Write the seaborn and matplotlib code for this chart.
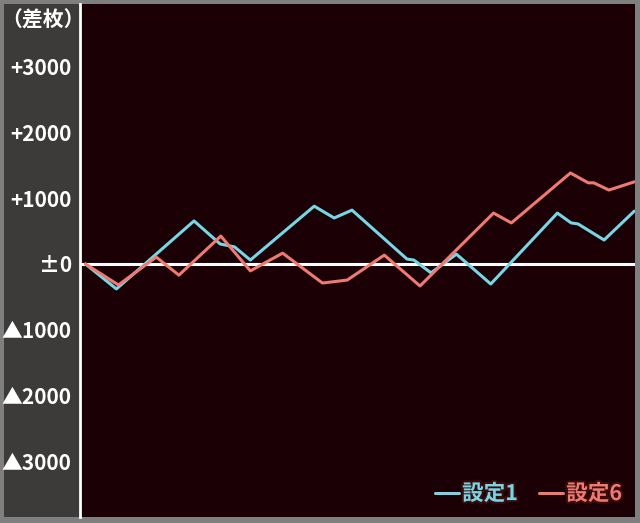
import numpy as np
import pandas as pd
import matplotlib.pyplot as plt
import matplotlib.patheffects as pe
from matplotlib.patches import Rectangle
import seaborn as sns

# 設定1 (cyan)
games_s1 = [0, 450, 1580, 1960, 2170, 2400, 3330, 3620, 3880, 4680, 4780, 5030,
            5400, 5900, 6870, 7070, 7170, 7550, 7990]
diff_s1 = [0, -380, 655, 305, 260, 60, 880, 700, 820, 75, 60, -135,
           150, -305, 775, 625, 610, 365, 805]

# 設定6 (red)
games_s6 = [0, 480, 1030, 1360, 1970, 2400, 2870, 3450, 3810, 4350, 4870, 5940,
            6200, 7060, 7320, 7400, 7620, 7990]
diff_s6 = [0, -320, 105, -170, 425, -105, 165, -290, -245, 135, -335, 775,
           625, 1385, 1235, 1235, 1125, 1250]

series_names = ['設定1', '設定6']
tick_values = [3000, 2000, 1000, 0, -1000, -2000, -3000]
tick_labels = ['+3000', '+2000', '+1000', '±0', '▲1000', '▲2000', '▲3000']

df = pd.concat([
    pd.DataFrame({'games': games_s1, 'diff': diff_s1, 'setting': series_names[0]}),
    pd.DataFrame({'games': games_s6, 'diff': diff_s6, 'setting': series_names[1]}),
])

sns.set_style('dark')
plt.rcParams['font.family'] = ['Noto Sans CJK JP', 'DejaVu Sans']

W, H = 640, 523
fig = plt.figure(figsize=(6.4, 5.23), dpi=100, facecolor='#7f7f7f')
# left label panel (behind the axes so tick labels stay visible)
panel = Rectangle((4 / W, 6 / H), 76 / W, 513 / H, transform=fig.transFigure,
                  facecolor='#3d3b39', edgecolor='none', zorder=-1)
fig.patches.append(panel)

ax = fig.add_axes([80 / W, 6 / H, 555 / W, 513 / H])
ax.set_facecolor('#1b0006')

ax.axhline(0, color='white', lw=2.2, zorder=1)
sns.lineplot(data=df, x='games', y='diff', hue='setting',
             palette={'設定1': '#78d6e4', '設定6': '#ee7a72'},
             estimator=None, sort=False, lw=2.2, ax=ax, zorder=3)

ax.set_xlim(-80, 8000)
ax.set_ylim(-3851, 3957)
ax.set_xticks([])
ax.set_yticks(tick_values)
ax.set_yticklabels(tick_labels)
ax.tick_params(axis='y', left=False, labelleft=True, length=0, pad=6,
               labelsize=15, labelcolor='white')
for t in ax.get_yticklabels():
    t.set_fontweight('bold')
ax.grid(False)
ax.set_xlabel('')
ax.set_ylabel('')
for s in ['top', 'right', 'bottom']:
    ax.spines[s].set_visible(False)
ax.spines['left'].set_visible(True)
ax.spines['left'].set_color('white')
ax.spines['left'].set_linewidth(2.0)

fig.text(43 / W, 1 - 20 / H, '（差枚）', color='white', fontsize=15,
         fontweight='bold', ha='center', va='center')

leg = ax.legend(loc='lower right', ncol=2, frameon=False,
                handlelength=1.1, handletextpad=0.15, columnspacing=1.0,
                borderaxespad=0.2, labelcolor='linecolor',
                prop={'weight': 'bold', 'size': 15.5})
for line in leg.get_lines():
    line.set_linewidth(2.2)
for t in leg.get_texts():
    t.set_path_effects([pe.withStroke(linewidth=3, foreground='#3a0c0c')])

fig.savefig('out.png', dpi=100, facecolor=fig.get_facecolor())
